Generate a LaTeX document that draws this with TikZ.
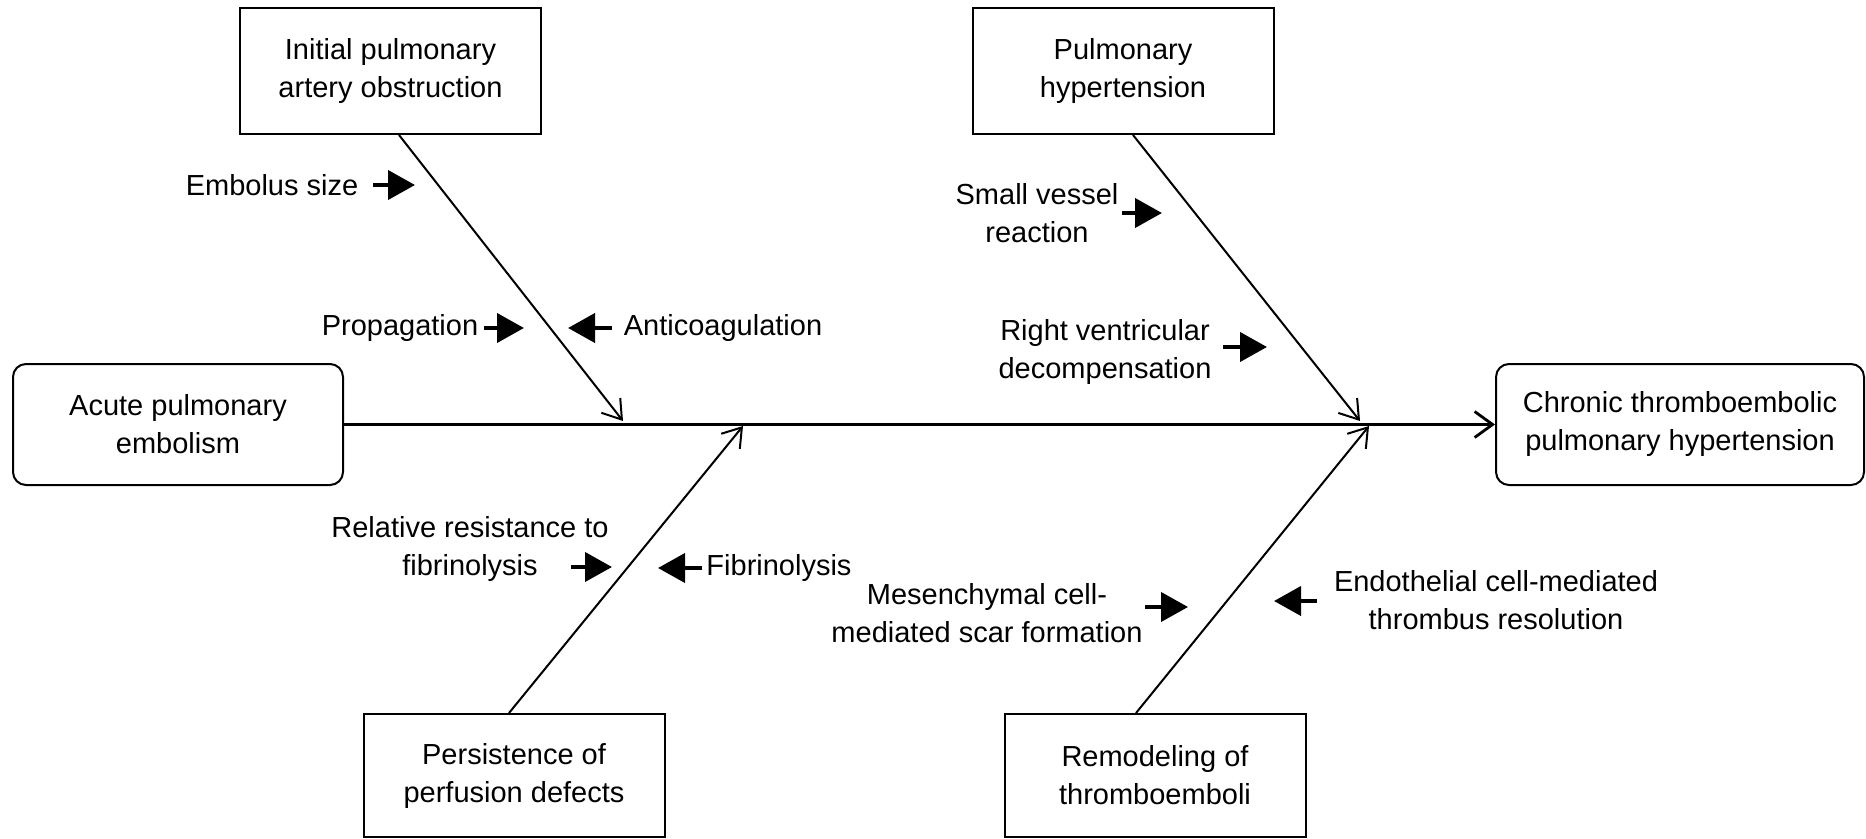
\documentclass[tikz,border=0pt]{standalone}
\usepackage{fontspec}
\setmainfont{Liberation Sans}
\usetikzlibrary{arrows.meta}

\begin{document}
\begin{tikzpicture}[x=0.5pt,y=-0.5pt,line width=1pt,
  every node/.style={font=\fontsize{14.5}{19}\selectfont,align=center},
  cause/.style={draw,minimum width=150.5pt,minimum height=63pt},
  endbox/.style={draw,rounded corners=6.5pt,minimum height=60.5pt},
  factor/.style={inner sep=0pt},
  rib/.style={-{Straight Barb[length=9pt,width=12pt]}},
  spine/.style={line width=1.4pt,-{Straight Barb[length=9pt,width=13pt]}},
  push/.style={line width=2pt,-{Triangle[length=13.5pt,width=14.5pt]}}]
  \useasboundingbox (0,0) rectangle (1866,839);

  \node[endbox,minimum width=165pt] (acute) at (178,424.5) {Acute pulmonary\\embolism};
  \node[endbox,minimum width=184pt] (cteph) at (1680,424.5) {Chronic thromboembolic\\pulmonary hypertension};
  \node[cause] (init) at (390.5,71) {Initial pulmonary\\artery obstruction};
  \node[cause] (ph) at (1123,71) {Pulmonary\\hypertension};
  \node[cause,minimum height=61.5pt] (persist) at (514,775.5) {Persistence of\\perfusion defects};
  \node[cause,minimum height=61.5pt] (remod) at (1155,775.5) {Remodeling of\\thromboemboli};

  \coordinate (j1) at (623,421);
  \coordinate (j2) at (743,426);
  \coordinate (j3) at (1360,421);
  \coordinate (j4) at (1369,426);

  \draw[spine] (acute) -- (cteph);
  \draw[rib] ([xshift=4.25pt]init.south) -- (j1);
  \draw[rib] ([xshift=5pt]ph.south) -- (j3);
  \draw[rib] ([xshift=-2.5pt]persist.north) -- (j2);
  \draw[rib] ([xshift=-9.5pt]remod.north) -- (j4);

  \node[factor] (size) at (272,185) {Embolus size};
  \node[factor] (prop) at (400,328) {Propagation};
  \node[factor] (antic) at (723,328) {Anticoagulation};
  \node[factor] (small) at (1037,213) {Small vessel\\reaction};
  \node[factor] (rv) at (1105,352) {Right ventricular\\decompensation};
  \node[factor] (resist) at (470,549) {Relative resistance to\\fibrinolysis};
  \node[factor] (fibr) at (779,568) {Fibrinolysis};
  \node[factor] (mesen) at (987,613) {Mesenchymal cell-\\mediated scar formation};
  \node[factor] (endo) at (1496,600) {Endothelial cell-mediated\\thrombus resolution};

  \coordinate (t1) at (415,185);
  \coordinate (t2) at (524,328);
  \coordinate (t3) at (568,328);
  \coordinate (t4) at (1162,213);
  \coordinate (t5) at (1267,347);
  \coordinate (t6) at (612,567);
  \coordinate (t7) at (658,568);
  \coordinate (t8) at (1188,607);
  \coordinate (t9) at (1274,601);

  \draw[push] ([xshift=-21pt]t1) -- (t1);
  \draw[push] ([xshift=-20pt]t2) -- (t2);
  \draw[push] ([xshift=22pt]t3) -- (t3);
  \draw[push] ([xshift=-20pt]t4) -- (t4);
  \draw[push] ([xshift=-22pt]t5) -- (t5);
  \draw[push] ([xshift=-20.5pt]t6) -- (t6);
  \draw[push] ([xshift=22pt]t7) -- (t7);
  \draw[push] ([xshift=-21.5pt]t8) -- (t8);
  \draw[push] ([xshift=21.5pt]t9) -- (t9);
\end{tikzpicture}
\end{document}
